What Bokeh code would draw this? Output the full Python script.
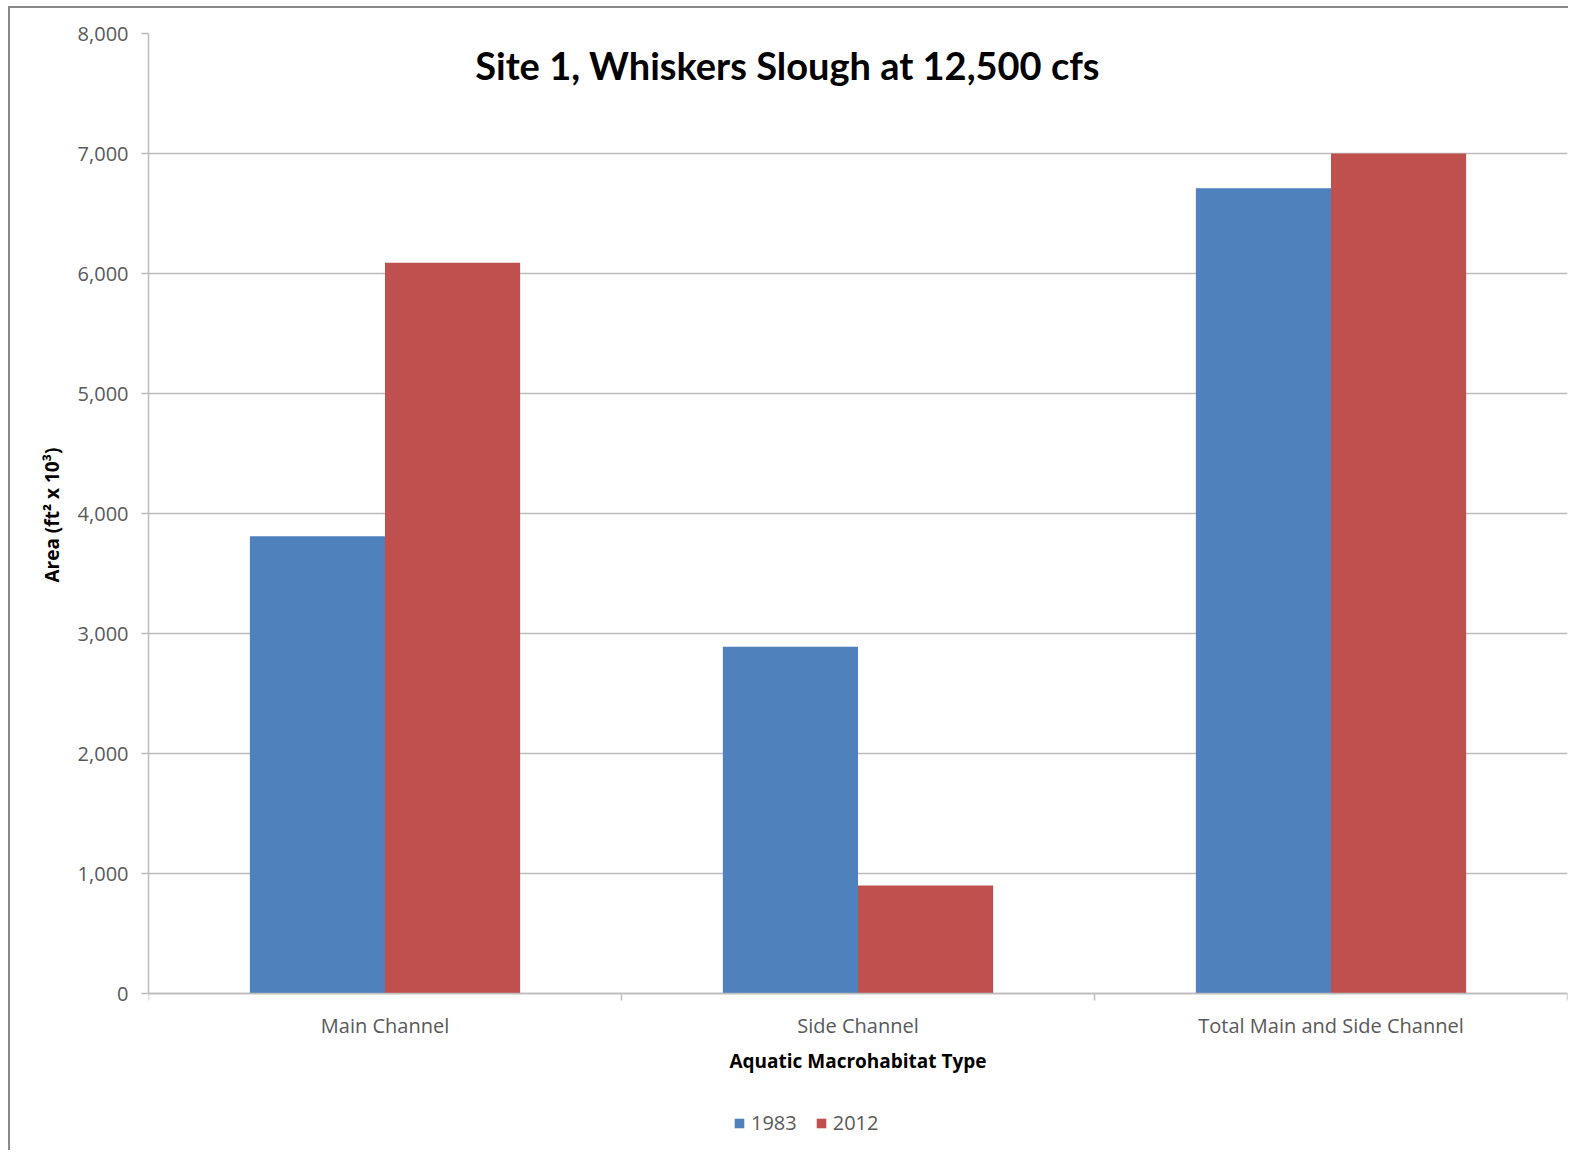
from bokeh.plotting import figure
from bokeh.models import (ColumnDataSource, FixedTicker, NumeralTickFormatter, Legend,
                          LegendItem, Label, Range1d, Title)
from bokeh.embed import file_html
from bokeh.resources import INLINE
import numpy as np

categories = ["Main Channel", "Side Channel", "Total Main and Side Channel"]
series_names = ["1983", "2012"]
values_1983 = [3810, 2890, 6710]
values_2012 = [6090, 900, 7000]
y_ticks = [0, 1000, 2000, 3000, 4000, 5000, 6000, 7000, 8000]

colors = ["#4F81BD", "#C0504D"]
bar_w = 1 / 3.5  # Excel gap width 150%

FONT = "Open Sans"
TXT = "#595959"

# layout: value axis spans 960 px for 0..8000; the frame continues below 0 so that
# the category labels, axis title and legend can sit inside it
AXIS_PX = 960
FRAME_H = 1117
Y_MAX = y_ticks[-1]
Y_MIN = Y_MAX - FRAME_H * Y_MAX / AXIS_PX

p = figure(frame_width=1419, frame_height=FRAME_H, output_backend="svg", toolbar_location=None,
           x_range=Range1d(0, len(categories)), y_range=Range1d(Y_MIN, Y_MAX),
           min_border_left=138, min_border_right=1, min_border_top=25, min_border_bottom=0)
p.styles = {"margin-left": "8px", "margin-top": "6px",
            "border-left": "2px solid #8a8a8a", "border-top": "2px solid #8a8a8a"}
p.outline_line_color = None
p.background_fill_color = "white"
p.border_fill_color = "white"

idx = np.arange(len(categories))
centers = idx + 0.5
src1 = ColumnDataSource(dict(x=centers - bar_w / 2, top=values_1983, cat=categories))
src2 = ColumnDataSource(dict(x=centers + bar_w / 2, top=values_2012, cat=categories))
r1 = p.vbar(x="x", top="top", bottom=0, width=bar_w, source=src1, fill_color=colors[0], line_color=None)
r2 = p.vbar(x="x", top="top", bottom=0, width=bar_w, source=src2, fill_color=colors[1], line_color=None)

# y axis
p.yaxis.bounds = (y_ticks[0], y_ticks[-1])
p.yaxis.ticker = FixedTicker(ticks=y_ticks, minor_ticks=[])
p.yaxis.formatter = NumeralTickFormatter(format="0,0")
p.yaxis.axis_line_color = "#bcbcbc"
p.yaxis.axis_line_width = 1.5
p.yaxis.major_tick_line_color = "#bcbcbc"
p.yaxis.major_tick_line_width = 1.5
p.yaxis.major_tick_out = 7
p.yaxis.major_tick_in = 0
p.yaxis.major_label_standoff = 13
p.yaxis.major_label_text_font = FONT
p.yaxis.major_label_text_font_size = "20px"
p.yaxis.major_label_text_color = TXT

# y axis title, centred on the 0..8000 part of the axis
ytitle = Title(text="Area (ft² x 10³)", align="left", offset=568, standoff=20,
               vertical_align="bottom", text_font=FONT, text_font_style="bold",
               text_font_size="19px", text_color="black")
p.add_layout(ytitle, "left")

# x axis drawn at value 0: labels at category centres, ticks at boundaries
p.xaxis.fixed_location = 0
p.xaxis.ticker = FixedTicker(ticks=list(centers), minor_ticks=list(range(len(categories) + 1)))
p.xaxis.major_label_overrides = {float(c): n for c, n in zip(centers, categories)}
p.xaxis.major_tick_line_color = None
p.xaxis.major_tick_out = 0
p.xaxis.major_tick_in = 0
p.xaxis.minor_tick_line_color = "#bcbcbc"
p.xaxis.minor_tick_line_width = 1.5
p.xaxis.minor_tick_out = 7
p.xaxis.minor_tick_in = 0
p.xaxis.axis_line_color = "#bcbcbc"
p.xaxis.axis_line_width = 1.5
p.xaxis.major_label_standoff = 11
p.xaxis.major_label_text_font = FONT
p.xaxis.major_label_text_font_size = "20px"
p.xaxis.major_label_text_color = TXT
p.xaxis.axis_label = "Aquatic Macrohabitat Type"
p.xaxis.axis_label_text_font = FONT
p.xaxis.axis_label_text_font_style = "bold"
p.xaxis.axis_label_text_font_size = "19px"
p.xaxis.axis_label_text_color = "black"
p.xaxis.axis_label_standoff = 6

p.xgrid.grid_line_color = None
p.ygrid.ticker = FixedTicker(ticks=y_ticks)
p.ygrid.grid_line_color = "#bcbcbc"
p.ygrid.grid_line_width = 1.5

title = Label(x=639, y=FRAME_H - 31, x_units="screen", y_units="screen",
              text="Site 1, Whiskers Slough at 12,500 cfs",
              text_font="Lato", text_font_style="bold", text_font_size="38px",
              text_color="black", text_align="center", text_baseline="middle")
p.add_layout(title)

legend = Legend(items=[LegendItem(label=series_names[0], renderers=[r1]),
                       LegendItem(label=series_names[1], renderers=[r2])],
                orientation="horizontal", location=(585, 14),
                glyph_width=12, glyph_height=12, label_standoff=6, spacing=18,
                label_text_font=FONT, label_text_font_size="20px", label_text_color=TXT,
                border_line_color=None, background_fill_alpha=0,
                margin=0, padding=4)
p.add_layout(legend)

open("out.html", "w").write(file_html(p, INLINE))
